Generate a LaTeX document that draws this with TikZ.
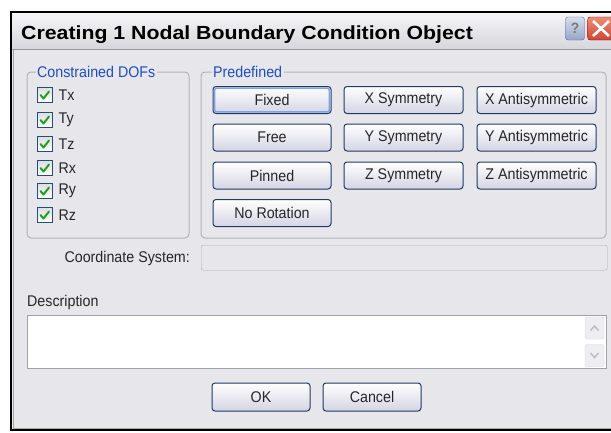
\documentclass[tikz,border=0pt]{standalone}
\usepackage{fontspec}
\setmainfont[FakeStretch=0.92]{Liberation Sans}
\newfontfamily\titlefont[FakeStretch=1.12]{Liberation Sans}
\definecolor{dlgbg}{RGB}{231,231,235}
\definecolor{titletop}{RGB}{246,246,248}
\definecolor{titlebot}{RGB}{214,214,220}
\definecolor{titleline}{RGB}{150,150,160}
\definecolor{grpborder}{RGB}{178,178,188}
\definecolor{glblue}{RGB}{30,76,196}
\definecolor{btnborder}{RGB}{32,58,98}
\definecolor{btnbot}{RGB}{212,212,228}
\definecolor{chkborder}{RGB}{30,80,120}
\definecolor{chktop}{RGB}{222,222,226}
\definecolor{chkgreen}{RGB}{34,160,34}
\definecolor{focusblue}{RGB}{130,160,228}
\definecolor{fieldborder}{RGB}{170,170,180}
\definecolor{boxborder}{RGB}{160,160,170}
\definecolor{scrollfill}{RGB}{238,238,242}
\definecolor{scrollborder}{RGB}{214,214,222}
\definecolor{chev}{RGB}{190,190,200}
\definecolor{helptop}{RGB}{214,222,238}
\definecolor{helpbot}{RGB}{150,166,200}
\definecolor{closetop}{RGB}{238,140,120}
\definecolor{closebot}{RGB}{208,70,50}
\begin{document}
\begin{tikzpicture}[x=1pt,y=-1pt,
  every node/.style={font=\fontsize{15.5}{17}\selectfont, text=black!85},
  btn/.style={draw=btnborder, line width=1pt, rounded corners=3pt, top color=white, bottom color=btnbot, minimum width=118pt, minimum height=27pt, inner sep=0pt},
  grp/.style={draw=grpborder, line width=1pt, rounded corners=4pt},
  glabel/.style={fill=dlgbg, text=glblue, inner sep=1.5pt, anchor=west},
  chk/.style={draw=chkborder, line width=1pt, top color=chktop, bottom color=white, minimum size=15pt, inner sep=0pt},
  chklbl/.style={anchor=west, inner sep=0pt},
  chkmark/.style={chkgreen, line width=2pt, line cap=round, line join=round},
]
\useasboundingbox (0,0) rectangle (611,432);
\fill[white] (0,0) rectangle (611,432);
% window body
\fill[dlgbg] (11,12) rectangle (615,430);
% title bar
\shade[top color=titletop, bottom color=titlebot] (12,13) rectangle (615,49);
\draw[titleline] (12,49.5) -- (615,49.5);
\draw[black, line width=2.5pt] (615,12) -- (11,12) -- (11,430) -- (615,430);
\draw[gray!70, line width=0.8pt] (13.5,50) -- (13.5,428) -- (615,428);
\node[anchor=base west, inner sep=0pt, text=black, font=\titlefont\bfseries\fontsize{19}{22}\selectfont] (title) at (21,39) {Creating 1 Nodal Boundary Condition Object};
% title buttons
\node[draw=gray!80!blue, rounded corners=2.5pt, top color=helptop, bottom color=helpbot, minimum width=19pt, minimum height=23pt, inner sep=0pt, font=\bfseries\fontsize{15}{16}\selectfont, text=white!30!darkgray] (help) at (575,28.5) {?};
\node[draw=red!50!black, rounded corners=2.5pt, top color=closetop, bottom color=closebot, minimum width=26pt, minimum height=23pt, inner sep=0pt, anchor=west] (close) at (587.5,28.5) {};
\draw[white, line width=2.6pt] (593,21) -- (609,36) (609,21) -- (593,36);
% Constrained DOFs group
\draw[grp] (27,72) rectangle (189,238);
\node[glabel] (gdof) at (35.5,72) {Constrained DOFs};
\foreach \n/\yy in {Tx/95,Ty/120,Tz/144,Rx/168,Ry/191,Rz/215} {
  \node[chk] (c\n) at (44.5,\yy) {};
  \draw[chkmark] (40.5,\yy) -- (43.5,\yy+3.5) -- (49,\yy-3.5);
  \node[chklbl] (l\n) at (58.5,\yy) {\n};
}
% Predefined group
\draw[grp] (201,72) rectangle (606,238);
\node[glabel] (gpre) at (211.5,72) {Predefined};
\node[btn] (fixed) at (272,100) {Fixed};
\draw[focusblue, line width=1.5pt, rounded corners=2pt] ([shift={(2.2,2.2)}]fixed.north west) rectangle ([shift={(-2.2,-2.2)}]fixed.south east);
\node[btn] (free) at (272,137.5) {Free};
\node[btn] (pinned) at (272,175.5) {Pinned};
\node[btn] (norot) at (272,213) {No Rotation};
\node[btn, minimum width=119pt] (xsym) at (403.5,100) {X Symmetry};
\node[btn, minimum width=119pt] (ysym) at (403.5,137.5) {Y Symmetry};
\node[btn, minimum width=119pt] (zsym) at (403.5,175.5) {Z Symmetry};
\node[btn, minimum width=119pt] (xanti) at (536.5,100) {X Antisymmetric};
\node[btn, minimum width=119pt] (yanti) at (536.5,137.5) {Y Antisymmetric};
\node[btn, minimum width=119pt] (zanti) at (536.5,175.5) {Z Antisymmetric};
% Coordinate system
\node[draw=fieldborder, fill=dlgbg, rounded corners=2pt, anchor=north west, minimum width=406pt, minimum height=25pt, inner sep=0pt] (csfield) at (201,245) {};
\node[anchor=east, inner sep=0pt] (cslbl) at (190,258.5) {Coordinate System:};
% Description
\node[anchor=west, inner sep=0pt] (desclbl) at (27,302) {Description};
\node[draw=boxborder, fill=white, anchor=north west, minimum width=579pt, minimum height=53pt, inner sep=0pt] (descbox) at (27,315) {};
\node[draw=scrollborder, fill=scrollfill, rounded corners=2pt, minimum width=19pt, minimum height=22pt, inner sep=0pt] (sup) at (594.5,328) {};
\draw[chev, line width=1.6pt] (590.5,330.5) -- (594.5,326) -- (598.5,330.5);
\node[draw=scrollborder, fill=scrollfill, rounded corners=2pt, minimum width=19pt, minimum height=22pt, inner sep=0pt] (sdn) at (594.5,355.5) {};
\draw[chev, line width=1.6pt] (590.5,353) -- (594.5,357.5) -- (598.5,353);
% OK / Cancel
\node[btn, minimum width=98pt, minimum height=28pt] (ok) at (261,397) {OK};
\node[btn, minimum width=98pt, minimum height=28pt] (cancel) at (372,397) {Cancel};
\end{tikzpicture}
\end{document}
